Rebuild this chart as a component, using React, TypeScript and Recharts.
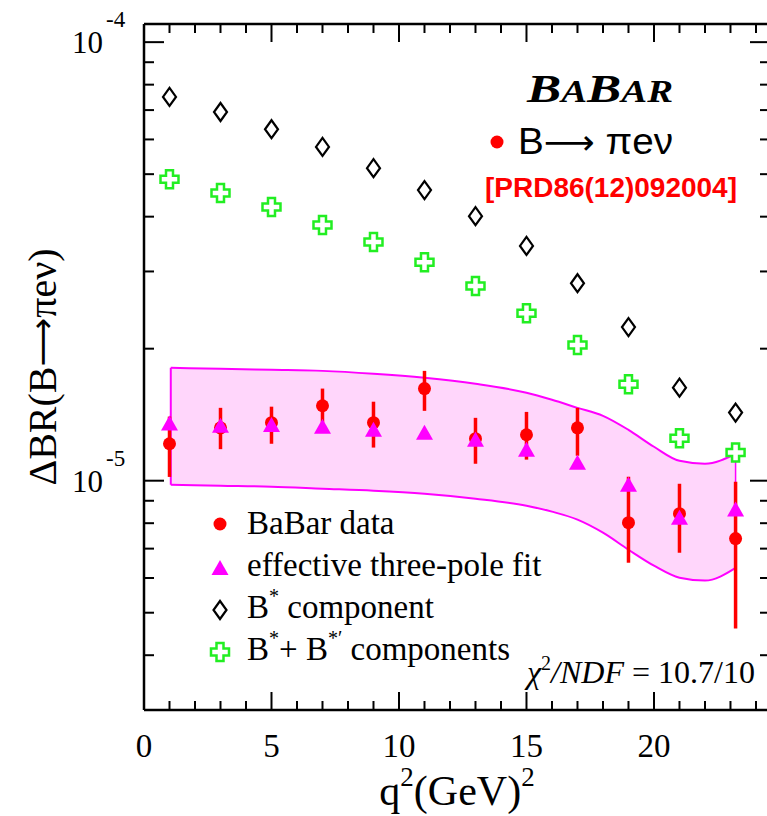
import { ComposedChart, Area, Scatter, ErrorBar, XAxis, YAxis, Legend, Customized, ReferenceLine } from 'recharts'

const SERIF = '"Liberation Serif", "Times New Roman", serif'
const SANS = '"Liberation Sans", Arial, sans-serif'
const ARROW_FONT = '"DejaVu Sans", sans-serif'

// q^2 bin centres (GeV^2)
const qBins = [1, 3, 5, 7, 9, 11, 13, 15, 17, 19, 21, 23.2]
// BaBar data with error-bar ends
const babar = [1.214e-5, 1.32e-5, 1.356e-5, 1.482e-5, 1.356e-5, 1.622e-5, 1.247e-5, 1.273e-5, 1.32e-5, 8.02e-6, 8.41e-6, 7.38e-6]
const babarHi = [1.4e-5, 1.466e-5, 1.475e-5, 1.622e-5, 1.514e-5, 1.78e-5, 1.391e-5, 1.435e-5, 1.466e-5, 1.021e-5, 9.84e-6, 9.95e-6]
const babarLo = [1.02e-5, 1.18e-5, 1.214e-5, 1.356e-5, 1.19e-5, 1.443e-5, 1.093e-5, 1.117e-5, 1.14e-5, 6.5e-6, 6.85e-6, 4.6e-6]
// effective three-pole fit
const fit = [1.35e-5, 1.334e-5, 1.34e-5, 1.327e-5, 1.306e-5, 1.286e-5, 1.24e-5, 1.177e-5, 1.099e-5, 9.79e-6, 8.23e-6, 8.6e-6]
// B* component, B* + B*' components
const bStar = [7.5e-5, 6.93e-5, 6.33e-5, 5.77e-5, 5.16e-5, 4.6e-5, 4.01e-5, 3.43e-5, 2.82e-5, 2.24e-5, 1.63e-5, 1.43e-5]
const bStarPrime = [4.87e-5, 4.53e-5, 4.21e-5, 3.83e-5, 3.5e-5, 3.15e-5, 2.78e-5, 2.41e-5, 2.04e-5, 1.66e-5, 1.25e-5, 1.16e-5]
// fit uncertainty band
const bandQ = [1.05, 3, 5, 7, 9, 11, 13, 15, 16, 17, 18, 19, 20, 21, 22, 23.2]
const bandHi = [1.809e-5, 1.799e-5, 1.79e-5, 1.78e-5, 1.753e-5, 1.716e-5, 1.663e-5, 1.587e-5, 1.529e-5, 1.466e-5, 1.406e-5, 1.306e-5, 1.195e-5, 1.11e-5, 1.093e-5, 1.152e-5]
const bandLo = [9.79e-6, 9.74e-6, 9.69e-6, 9.59e-6, 9.49e-6, 9.34e-6, 9.1e-6, 8.77e-6, 8.5e-6, 8.15e-6, 7.61e-6, 6.96e-6, 6.4e-6, 6.01e-6, 5.92e-6, 6.33e-6]

const xTicks = [0, 1, 2, 3, 4, 5, 6, 7, 8, 9, 10, 11, 12, 13, 14, 15, 16, 17, 18, 19, 20, 21, 22, 23, 24]
const yTicks = [4e-6, 5e-6, 6e-6, 7e-6, 8e-6, 9e-6, 1e-5, 2e-5, 3e-5, 4e-5, 5e-5, 6e-5, 7e-5, 8e-5, 9e-5, 1e-4]

const bandRows = bandQ.map((q, i) => ({ q, band: [bandLo[i], bandHi[i]] }))
const babarRows = qBins.map((q, i) => ({ q, v: babar[i], err: [babar[i] - babarLo[i], babarHi[i] - babar[i]] }))
const fitRows = qBins.map((q, i) => ({ q, v: fit[i] }))
const bStarRows = qBins.map((q, i) => ({ q, v: bStar[i] }))
const bStarPrimeRows = qBins.map((q, i) => ({ q, v: bStarPrime[i] }))
const lastBand = bandQ.length - 1

const isDecade = (v: number) => Math.abs(Math.log10(v) - Math.round(Math.log10(v))) < 1e-6

const Dot = ({ cx, cy }: any) => <circle cx={cx} cy={cy} r={6.5} fill="#ff0000" />
const Tri = ({ cx, cy }: any) => <path d={`M${cx},${cy - 8}L${cx + 8.5},${cy + 7}L${cx - 8.5},${cy + 7}Z`} fill="#ff00ff" />
const Diamond = ({ cx, cy }: any) => (
  <path d={`M${cx},${cy - 9}L${cx + 6.5},${cy}L${cx},${cy + 9}L${cx - 6.5},${cy}Z`} fill="none" stroke="#000" strokeWidth={2.2} />
)
const Cross = ({ cx, cy }: any) => {
  const s = 9, a = 3.5
  const d = `M${cx - a},${cy - s}L${cx + a},${cy - s}L${cx + a},${cy - a}L${cx + s},${cy - a}L${cx + s},${cy + a}L${cx + a},${cy + a}L${cx + a},${cy + s}L${cx - a},${cy + s}L${cx - a},${cy + a}L${cx - s},${cy + a}L${cx - s},${cy - a}L${cx - a},${cy - a}Z`
  return <path d={d} fill="#fff" stroke="#22ee22" strokeWidth={2.5} />
}

const LeftTick = ({ x, y, payload }: any) => {
  const major = isDecade(payload.value)
  return (
    <g>
      <line x1={x} x2={x + (major ? 20 : 10)} y1={y} y2={y} stroke="#000" strokeWidth={2} />
      {major && (
        <text x={x - 72} y={y + 11} fontFamily={SERIF} fontSize={31} fill="#000">
          10<tspan dx={3} dy={-26} fontSize={23}>{Math.round(Math.log10(payload.value))}</tspan>
        </text>
      )}
    </g>
  )
}
const RightTick = ({ x, y, payload }: any) => (
  <line x1={x} x2={x - (isDecade(payload.value) ? 20 : 10)} y1={y} y2={y} stroke="#000" strokeWidth={2} />
)
const BottomTick = ({ x, y, payload }: any) => {
  const major = payload.value % 5 === 0
  return (
    <g>
      <line x1={x} x2={x} y1={y} y2={y - (major ? 18 : 9)} stroke="#000" strokeWidth={2} />
      {major && (
        <text x={x} y={y + 47} textAnchor="middle" fontFamily={SERIF} fontSize={33} fill="#000">{payload.value}</text>
      )}
    </g>
  )
}
const TopTick = ({ x, y, payload }: any) => (
  <line x1={x} x2={x} y1={y} y2={y + (payload.value % 5 === 0 ? 18 : 9)} stroke="#000" strokeWidth={2} />
)

const XTitle = ({ viewBox }: any) => {
  const vb = viewBox || { x: 144, y: 710, width: 626, height: 100 }
  return (
    <text x={vb.x + vb.width / 2} y={vb.y + 95} textAnchor="middle" fontFamily={SERIF} fontSize={42} fill="#000">
      q<tspan dy={-19} fontSize={27}>2</tspan><tspan dy={19}>(GeV)</tspan><tspan dy={-19} fontSize={27}>2</tspan>
    </text>
  )
}
const YTitle = ({ viewBox }: any) => {
  const vb = viewBox || { x: 14, y: 24, width: 130, height: 686 }
  const cx = vb.x + 28
  const cy = vb.y + vb.height / 2
  return (
    <text x={cx} y={cy} transform={`rotate(-90 ${cx} ${cy})`} textAnchor="middle" dominantBaseline="central"
      fontFamily={SERIF} fontSize={40} fill="#000">
      ΔBR(B<tspan fontFamily={ARROW_FONT} fontSize={34}>⟶</tspan>πeν)
    </text>
  )
}

const LegendBox = () => (
  <svg width={340} height={175} style={{ overflow: 'visible' }}>
    <Dot cx={20} cy={24} />
    <Tri cx={20} cy={68} />
    <Diamond cx={20} cy={110} />
    <Cross cx={20} cy={152} />
    <g fontFamily={SERIF} fontSize={33} fill="#000">
      <text x={47} y={34}>BaBar data</text>
      <text x={47} y={76}>effective three-pole fit</text>
      <text x={47} y={118}>B<tspan dy={-15} fontSize={20}>*</tspan><tspan dy={15}> component</tspan></text>
      <text x={47} y={160}>B<tspan dy={-15} fontSize={20}>*</tspan><tspan dy={15}>+ B</tspan><tspan dy={-15} fontSize={20}>*′</tspan><tspan dy={15}> components</tspan></text>
    </g>
  </svg>
)

const Annotations = () => (
  <g>
    <text x={527} y={102} fontFamily={SERIF} fontWeight="bold" fontStyle="italic" fill="#000" textLength={146} lengthAdjust="spacingAndGlyphs">
      <tspan fontSize={41}>B</tspan><tspan fontSize={31}>A</tspan><tspan fontSize={41}>B</tspan><tspan fontSize={31}>AR</tspan>
    </text>
    <circle cx={497} cy={142} r={6.5} fill="#ff0000" />
    <text x={518} y={154} fontFamily={SANS} fontSize={37} fill="#000" textLength={155} lengthAdjust="spacingAndGlyphs">
      B<tspan fontFamily={ARROW_FONT} fontSize={34}>⟶</tspan> πeν
    </text>
    <text x={485} y={197} fontFamily={SANS} fontWeight="bold" fontSize={27} fill="#ff0000" textLength={252} lengthAdjust="spacingAndGlyphs">[PRD86(12)092004]</text>
    <text x={527} y={683} fontFamily={SERIF} fontSize={32} fill="#000">
      <tspan fontStyle="italic">χ</tspan><tspan dy={-13} fontSize={20}>2</tspan><tspan dy={13} fontStyle="italic">/NDF</tspan><tspan> = 10.7/10</tspan>
    </text>
  </g>
)

export default function App() {
  return (
    <div style={{ position: 'absolute', left: 0, top: 0, width: 767, height: 816, overflow: 'hidden', background: '#fff' }}>
      <ComposedChart width={800} height={816} data={bandRows} margin={{ top: 20, right: 20, bottom: 6, left: 14 }}>
        <XAxis dataKey="q" type="number" domain={[0, 24.55]} allowDataOverflow ticks={xTicks} interval={0}
          tickSize={0} tickMargin={0} tick={<BottomTick />} tickLine={false} height={100}
          axisLine={{ stroke: '#000', strokeWidth: 2.5 }} label={<XTitle />} />
        <XAxis xAxisId="top" orientation="top" dataKey="q" type="number" domain={[0, 24.55]} allowDataOverflow ticks={xTicks} interval={0}
          tickSize={0} tickMargin={0} tick={<TopTick />} tickLine={false} height={4}
          axisLine={{ stroke: '#000', strokeWidth: 2.5 }} />
        <YAxis scale="log" domain={[3e-6, 1.1e-4]} allowDataOverflow ticks={yTicks} interval={0}
          tickSize={0} tickMargin={0} tick={<LeftTick />} tickLine={false} width={130}
          axisLine={{ stroke: '#000', strokeWidth: 2.5 }} label={<YTitle />} />
        <YAxis yAxisId="right" orientation="right" scale="log" domain={[3e-6, 1.1e-4]} allowDataOverflow ticks={yTicks} interval={0}
          tickSize={0} tickMargin={0} tick={<RightTick />} tickLine={false} width={10}
          axisLine={{ stroke: '#000', strokeWidth: 2.5 }} />
        <Area dataKey="band" type="monotone" fill="#ffd6fb" fillOpacity={1} stroke="#ff00ff" strokeWidth={2} isAnimationActive={false} />
        <ReferenceLine segment={[{ x: bandQ[0], y: bandLo[0] }, { x: bandQ[0], y: bandHi[0] }]} stroke="#ff00ff" strokeWidth={2} />
        <ReferenceLine segment={[{ x: bandQ[lastBand], y: bandLo[lastBand] }, { x: bandQ[lastBand], y: bandHi[lastBand] }]} stroke="#ff00ff" strokeWidth={1.5} />
        <Scatter name="BaBar data" data={babarRows} dataKey="v" shape={<Dot />} isAnimationActive={false}>
          <ErrorBar dataKey="err" direction="y" width={0} stroke="#ff0000" strokeWidth={3.5} isAnimationActive={false} />
        </Scatter>
        <Scatter name="effective three-pole fit" data={fitRows} dataKey="v" shape={<Tri />} isAnimationActive={false} />
        <Scatter name="B* component" data={bStarRows} dataKey="v" shape={<Diamond />} isAnimationActive={false} />
        <Scatter name="B* + B*' components" data={bStarPrimeRows} dataKey="v" shape={<Cross />} isAnimationActive={false} />
        <Legend layout="horizontal" verticalAlign="middle" align="center" content={<LegendBox />}
          wrapperStyle={{ left: 200, top: 500, width: 340, height: 175 }} />
        <Customized component={<Annotations />} />
      </ComposedChart>
    </div>
  )
}
